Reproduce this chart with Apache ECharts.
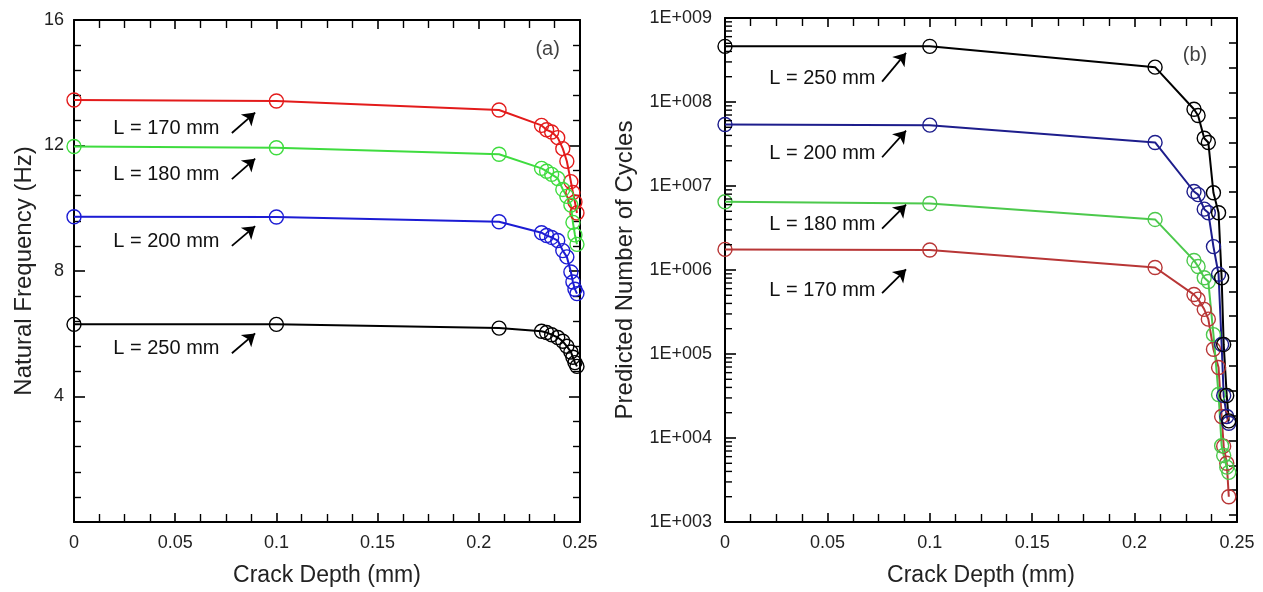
<!DOCTYPE html>
<html><head><meta charset="utf-8">
<script src="https://cdn.jsdelivr.net/npm/echarts@6/dist/echarts.min.js"></script>
<style>html,body{margin:0;padding:0;background:#fff}#c{width:1263px;height:592px}</style>
</head><body><div id="c"></div>
<script>
// ---- Panel (a): natural frequency vs crack depth ----
const depthA   = [0, 0.1, 0.21, 0.231, 0.2335, 0.236, 0.239, 0.2415, 0.2435, 0.2455, 0.2465, 0.2475, 0.2485];
const freq170  = [13.45, 13.42, 13.13, 12.64, 12.50, 12.43, 12.25, 11.90, 11.50, 10.85, 10.50, 10.20, 9.85];
const freq180  = [11.97, 11.93, 11.72, 11.27, 11.18, 11.08, 10.95, 10.60, 10.38, 10.10, 9.55, 9.15, 8.85];
const freq200  = [9.73, 9.72, 9.57, 9.22, 9.13, 9.07, 8.97, 8.65, 8.45, 7.97, 7.65, 7.42, 7.28];
const freq250  = [6.30, 6.30, 6.18, 6.08, 6.04, 5.97, 5.88, 5.76, 5.60, 5.42, 5.25, 5.08, 4.96];

// ---- Panel (b): predicted number of cycles vs crack depth ----
const depthB   = [0, 0.1, 0.21, 0.229, 0.231, 0.234, 0.236, 0.2385, 0.241, 0.2425, 0.2435, 0.245, 0.246];
const cyc250   = [4.6e8, 4.6e8, 2.6e8, 8.2e7, 6.9e7, 3.7e7, 3.3e7, 8.3e6, 4.8e6, 8.1e5, 1.3e5, 3.2e4, 1.6e4];
const cyc200   = [5.4e7, 5.3e7, 3.3e7, 8.6e6, 7.9e6, 5.3e6, 4.8e6, 1.9e6, 8.9e5, 1.3e5, 3.2e4, 1.8e4, 1.5e4];
const cyc180   = [6.5e6, 6.2e6, 4.0e6, 1.3e6, 1.1e6, 8.1e5, 7.3e5, 1.7e5, 3.3e4, 8.1e3, 6.2e3, 4.5e3, 3.9e3];
const cyc170   = [1.76e6, 1.73e6, 1.07e6, 5.1e5, 4.5e5, 3.4e5, 2.6e5, 1.14e5, 6.9e4, 1.8e4, 8.0e3, 5.0e3, 2.0e3];

// tick labels
const xTickLabels = ['0', '0.05', '0.1', '0.15', '0.2', '0.25'];
const freqTickLabels = ['', '4', '8', '12', '16'];
const cycTickLabels = ['1E+003', '1E+004', '1E+005', '1E+006', '1E+007', '1E+008', '1E+009'];
const seriesNames = ['L = 170 mm', 'L = 180 mm', 'L = 200 mm', 'L = 250 mm'];

const FONT = '"Liberation Sans", Arial, sans-serif';
const zip = (xs, ys) => xs.map((x, i) => [x, ys[i]]);

const colorsA = ['#e31b1b', '#3fdc3f', '#1c1cd4', '#000000'];
const colorsB = ['#b83636', '#4cc94c', '#1d1d8c', '#000000'];

// annotation placements (text anchor, arrow tail, arrow head) in data coords
const annA = [
  { t: [0.0731, 12.55], a: [0.078, 12.40], b: [0.0895, 13.05] },
  { t: [0.0731, 11.08], a: [0.078, 10.93], b: [0.0895, 11.58] },
  { t: [0.0731, 8.93],  a: [0.078, 8.80],  b: [0.0895, 9.43] },
  { t: [0.0731, 5.52],  a: [0.078, 5.38],  b: [0.0895, 6.01] }
];
const annB = [
  { t: [0.0747, 5.7e5], a: [0.0767, 5.3e5], b: [0.0884, 1.02e6] },
  { t: [0.0747, 3.45e6], a: [0.0767, 3.1e6], b: [0.0884, 6.0e6] },
  { t: [0.0747, 2.45e7], a: [0.0767, 2.2e7], b: [0.0884, 4.55e7] },
  { t: [0.0747, 1.9e8], a: [0.0767, 1.75e8], b: [0.0884, 3.84e8] }
];

function lineSeries(name, data, color, xi, yi, ann) {
  return {
    name, type: 'line', data, xAxisIndex: xi, yAxisIndex: yi,
    symbol: 'circle', symbolSize: 14,
    lineStyle: { color, width: 2 },
    itemStyle: { color: 'rgba(0,0,0,0)', borderColor: color, borderWidth: 1.4 },
    z: 3, animation: false, silent: true,
    markLine: {
      silent: true, symbol: ['none', 'arrow'], symbolSize: 12,
      label: { show: false },
      lineStyle: { color: '#000', width: 1.8, type: 'solid' },
      data: [[{ coord: ann.a }, { coord: ann.b }]]
    },
    markPoint: {
      silent: true, symbol: 'circle', symbolSize: 1,
      itemStyle: { color: 'rgba(0,0,0,0)' },
      label: { show: true, position: 'left', distance: 2, formatter: name,
               color: '#111', fontSize: 20, fontFamily: FONT },
      data: [{ coord: ann.t }]
    }
  };
}

const axisLine = { show: true, onZero: false, lineStyle: { color: '#000', width: 2 } };
const tickIn = (len) => ({ show: true, inside: true, length: len, lineStyle: { color: '#000', width: 1.6 } });
const labelStyle = { color: '#222', fontSize: 18, fontFamily: FONT };
const nameStyle = { color: '#222', fontSize: 23, fontFamily: FONT };

function xAxes(grid) {
  return [
    { gridIndex: grid, type: 'value', min: 0, max: 0.25, interval: 0.05, position: 'bottom',
      axisLine, axisTick: tickIn(9), minorTick: { show: true, splitNumber: 4, length: 8, lineStyle: { color: '#000', width: 1.4 } },
      splitLine: { show: false },
      axisLabel: { ...labelStyle, margin: 12, formatter: (v) => xTickLabels[Math.round(v / 0.05)] ?? '' },
      name: 'Crack Depth (mm)', nameLocation: 'middle', nameGap: 42, nameTextStyle: nameStyle },
    { gridIndex: grid, type: 'value', min: 0, max: 0.25, interval: 0.05, position: 'top',
      axisLine, axisTick: tickIn(9), minorTick: { show: true, splitNumber: 4, length: 8, lineStyle: { color: '#000', width: 1.4 } },
      splitLine: { show: false }, axisLabel: { show: false } }
  ];
}

// minor tick values for log axis (2..9 in each decade)
const logMinor = [];
for (let d = 3; d < 9; d++) for (let k = 2; k <= 9; k++) logMinor.push([0, k * Math.pow(10, d)]);

const option = {
  backgroundColor: '#fff',
  animation: false,
  grid: [
    { left: 74, top: 20, width: 506, height: 505, containLabel: false },
    { left: 725, top: 18, width: 512, height: 507, containLabel: false }
  ],
  xAxis: [...xAxes(0), ...xAxes(1)],
  yAxis: [
    { gridIndex: 0, type: 'value', min: 0, max: 16, interval: 4, position: 'left',
      axisLine, axisTick: tickIn(11), minorTick: { show: true, splitNumber: 5, length: 7, lineStyle: { color: '#000', width: 1.4 } },
      splitLine: { show: false },
      axisLabel: { ...labelStyle, margin: 10, formatter: (v) => freqTickLabels[Math.round(v / 4)] ?? '' },
      name: 'Natural Frequency (Hz)', nameLocation: 'middle', nameGap: 38, nameTextStyle: { ...nameStyle, fontSize: 24 } },
    { gridIndex: 0, type: 'value', min: 0, max: 16, interval: 4, position: 'right',
      axisLine, axisTick: tickIn(11), minorTick: { show: true, splitNumber: 5, length: 7, lineStyle: { color: '#000', width: 1.4 } },
      splitLine: { show: false }, axisLabel: { show: false } },
    { gridIndex: 1, type: 'log', logBase: 10, min: 1e3, max: 1e9, splitNumber: 6, position: 'left',
      axisLine, axisTick: tickIn(11), splitLine: { show: false },
      axisLabel: { ...labelStyle, margin: 13, formatter: (v) => cycTickLabels[Math.round(Math.log10(v)) - 3] ?? '' },
      name: 'Predicted Number of Cycles', nameLocation: 'middle', nameGap: 88, nameTextStyle: { ...nameStyle, fontSize: 24 } },
    { gridIndex: 1, type: 'value', min: 0, max: 20.28, interval: 1, inverse: true, position: 'right',
      axisLine, axisTick: tickIn(8), splitLine: { show: false }, axisLabel: { show: false } }
  ],
  series: [
    lineSeries(seriesNames[0], zip(depthA, freq170), colorsA[0], 0, 0, annA[0]),
    lineSeries(seriesNames[1], zip(depthA, freq180), colorsA[1], 0, 0, annA[1]),
    lineSeries(seriesNames[2], zip(depthA, freq200), colorsA[2], 0, 0, annA[2]),
    lineSeries(seriesNames[3], zip(depthA, freq250), colorsA[3], 0, 0, annA[3]),
    lineSeries(seriesNames[0], zip(depthB, cyc170), colorsB[0], 2, 2, annB[0]),
    lineSeries(seriesNames[1], zip(depthB, cyc180), colorsB[1], 2, 2, annB[1]),
    lineSeries(seriesNames[2], zip(depthB, cyc200), colorsB[2], 2, 2, annB[2]),
    lineSeries(seriesNames[3], zip(depthB, cyc250), colorsB[3], 2, 2, annB[3]),
    { type: 'custom', xAxisIndex: 2, yAxisIndex: 2, data: logMinor, silent: true, clip: false, z: 4,
      renderItem: (params, api) => {
        const p = api.coord([0, api.value(1)]);
        return { type: 'line', shape: { x1: p[0], y1: p[1], x2: p[0] + 7, y2: p[1] },
                 style: { stroke: '#000', lineWidth: 1.4 } };
      } },
    { type: 'scatter', xAxisIndex: 0, yAxisIndex: 0, data: [[0.234, 15.05]], symbolSize: 0, silent: true,
      label: { show: true, position: 'inside', formatter: '(a)', color: '#111', fontSize: 20, fontFamily: FONT } },
    { type: 'scatter', xAxisIndex: 2, yAxisIndex: 2, data: [[0.2295, 3.6e8]], symbolSize: 0, silent: true,
      label: { show: true, position: 'inside', formatter: '(b)', color: '#111', fontSize: 20, fontFamily: FONT } }
  ]
};

const chart = echarts.init(document.getElementById('c'), null, { renderer: 'canvas' });
chart.setOption(option);
</script>
</body></html>
